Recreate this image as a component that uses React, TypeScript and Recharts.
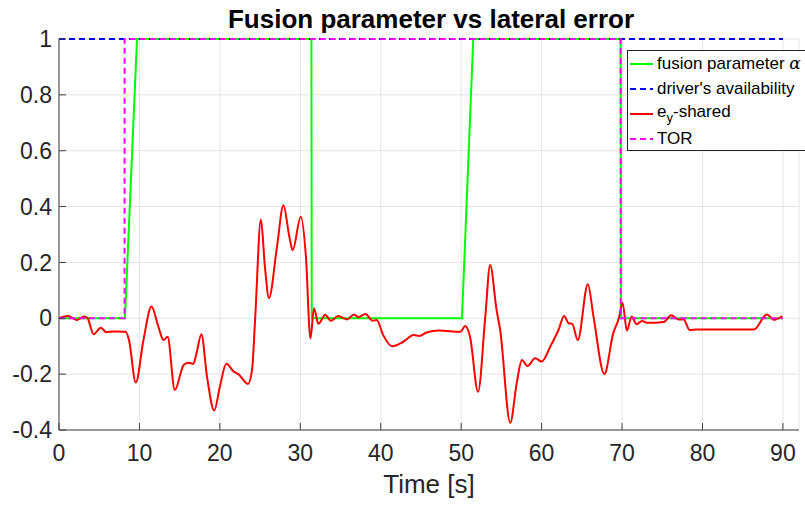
import React from "react";
import {
  LineChart,
  Line,
  XAxis,
  YAxis,
  CartesianGrid,
  Legend,
  Label,
} from "recharts";

// tick positions
const xTicks = [0, 10, 20, 30, 40, 50, 60, 70, 80, 90];
const yTicks = [-0.4, -0.2, 0, 0.2, 0.4, 0.6, 0.8, 1];

// fusion parameter alpha (time, value)
const alphaT = [0, 8.2, 9.7, 31.38, 31.42, 50.1, 51.5, 69.82, 69.86, 90];
const alphaV = [0, 0, 1, 1, 0, 0, 1, 1, 0, 0];

// driver's availability
const availT = [0, 90];
const availV = [1, 1];

// take-over request
const torT = [0, 8.15, 8.16, 69.83, 69.84, 90];
const torV = [0, 0, 1, 1, 0, 0];

// lateral error e_y shared
const eyT = [
  0, 1.15, 2.2, 3.15, 3.55, 4.3, 5.2, 5.9, 6.75, 8.3, 8.7, 9.55, 10.5, 11.5,
  12.35, 13.0, 13.5, 14.4, 15.5, 16.1, 16.7, 17.1, 17.7, 18.4, 19.3, 20.0,
  20.8, 21.7, 22.3, 23.5, 24.0, 24.4, 25.1, 25.6, 26.1, 27.1, 27.9, 28.65,
  29.05, 30.06, 30.7, 31.26, 31.7, 32.25, 33.1, 33.8, 34.7, 35.8, 36.7, 37.2,
  38.1, 39.0, 39.5, 40.3, 41.4, 42.8, 44.1, 44.8, 45.7, 47.2, 49.9, 50.5, 51.1,
  52.1, 53.0, 53.6, 54.4, 54.85, 56.1, 56.9, 57.55, 58.25, 59.2, 60.0, 61.1,
  62.1, 62.8, 63.35, 63.8, 64.5, 65.75, 66.45, 67.8, 68.9, 69.6, 70.06, 70.6,
  71.2, 71.8, 72.5, 73.1, 75.2, 76.1, 77.0, 77.65, 78.4, 79.3, 86.4, 88.0,
  88.9, 89.9,
];
const eyV = [
  0, 0.008, -0.006, 0.006, 0.0, -0.057, -0.034, -0.05, -0.047, -0.048, -0.078,
  -0.23, -0.078, 0.042, -0.03, -0.078, -0.066, -0.257, -0.167, -0.159, -0.163,
  -0.125, -0.057, -0.209, -0.33, -0.245, -0.163, -0.19, -0.2, -0.235, -0.185,
  0.006, 0.354, 0.185, 0.072, 0.256, 0.405, 0.29, 0.244, 0.364, 0.22, -0.072,
  0.036, -0.02, 0.013, -0.009, 0.008, -0.004, 0.014, 0.004, 0.015, -0.009,
  -0.006, -0.06, -0.1, -0.084, -0.06, -0.063, -0.051, -0.044, -0.048, -0.028,
  -0.066, -0.263, 0.006, 0.191, 0.03, -0.042, -0.374, -0.233, -0.149, -0.171,
  -0.143, -0.155, -0.1, -0.042, 0.008, -0.018, -0.02, -0.078, 0.122, 0.006,
  -0.2, -0.054, 0.0, 0.056, -0.044, 0.006, -0.021, -0.01, -0.016, -0.013,
  0.011, -0.004, -0.004, -0.042, -0.04, -0.04, 0.014, -0.006, 0.008,
];

const toRows = (t: number[], v: number[]) => t.map((x, i) => ({ t: x, v: v[i] }));

const alphaData = toRows(alphaT, alphaV);
const availData = toRows(availT, availV);
const torData = toRows(torT, torV);
const eyData = toRows(eyT, eyV);

const FONT = '"Liberation Sans", Arial, Helvetica, sans-serif';
const AXIS = "#404040";

const legendRows = [
  {
    color: "#00ff00",
    dash: "",
    label: (
      <>
        fusion parameter{" "}
        <span style={{ fontFamily: '"DejaVu Serif", serif', fontStyle: "italic" }}>α</span>
      </>
    ),
  },
  { color: "#0000ff", dash: "6 4", label: <>driver's availability</> },
  {
    color: "#ff0000",
    dash: "",
    label: (
      <>
        e<sub style={{ fontSize: 13, verticalAlign: "-5px" }}>y</sub>-shared
      </>
    ),
  },
  { color: "#ff00ff", dash: "6 4", label: <>TOR</> },
];

const LegendBox = () => (
  <div
    style={{
      boxSizing: "border-box",
      width: 190,
      height: 101,
      border: "1px solid #262626",
      background: "#fff",
      fontFamily: FONT,
      fontSize: 17,
      color: "#000",
      paddingTop: 0,
    }}
  >
    {legendRows.map((r, i) => (
      <div
        key={i}
        style={{ height: 25, display: "flex", alignItems: "center", whiteSpace: "nowrap" }}
      >
        <svg width={23} height={4} style={{ marginLeft: 2, marginRight: 4 }}>
          <line
            x1={0}
            y1={2}
            x2={23}
            y2={2}
            stroke={r.color}
            strokeWidth={2}
            strokeDasharray={r.dash || undefined}
          />
        </svg>
        <span>{r.label}</span>
      </div>
    ))}
  </div>
);

const fmt = (v: number) => String(Math.round(v * 10) / 10);

export default function App() {
  return (
    <div
      style={{
        position: "absolute",
        left: 0,
        top: 0,
        width: 805,
        height: 505,
        overflow: "hidden",
        background: "#fff",
      }}
    >
      <div
        style={{
          position: "absolute",
          left: 0,
          top: 6,
          width: 862,
          textAlign: "center",
          fontFamily: FONT,
          fontWeight: "bold",
          fontSize: 26,
          lineHeight: "26px",
          color: "#000",
          zIndex: 2,
        }}
      >
        Fusion parameter vs lateral error
      </div>
      <LineChart
        width={805}
        height={505}
        margin={{ top: 39, right: 6, left: 9, bottom: 25 }}
      >
        <CartesianGrid stroke="#e3e3e3" strokeWidth={1} />
        <XAxis
          type="number"
          dataKey="t"
          domain={[0, 92]}
          ticks={xTicks}
          height={50}
          allowDuplicatedCategory={false}
          stroke={AXIS}
          tickSize={-7}
          tickMargin={22}
          tick={{ fill: "#262626", fontSize: 23, fontFamily: FONT }}
        >
          <Label
            value="Time [s]"
            position="bottom"
            offset={-5}
            style={{ fill: "#262626", fontSize: 26, fontFamily: FONT }}
          />
        </XAxis>
        <YAxis
          type="number"
          dataKey="v"
          domain={[-0.4, 1]}
          ticks={yTicks}
          width={50}
          stroke={AXIS}
          tickSize={-7}
          tickMargin={14}
          tickFormatter={fmt}
          tick={{ fill: "#262626", fontSize: 23, fontFamily: FONT }}
        />
        <Legend
          layout="horizontal"
          verticalAlign="middle"
          align="center"
          content={() => <LegendBox />}
          wrapperStyle={{ left: 627, top: 50, width: 190, height: 101 }}
        />
        <Line
          data={alphaData}
          dataKey="v"
          type="linear"
          stroke="#00ff00"
          strokeWidth={2}
          dot={false}
          isAnimationActive={false}
        />
        <Line
          data={availData}
          dataKey="v"
          type="linear"
          stroke="#0000ff"
          strokeWidth={2}
          strokeDasharray="6 4"
          dot={false}
          isAnimationActive={false}
        />
        <Line
          data={eyData}
          dataKey="v"
          type="monotone"
          stroke="#ff0000"
          strokeWidth={2}
          dot={false}
          isAnimationActive={false}
        />
        <Line
          data={torData}
          dataKey="v"
          type="linear"
          stroke="#ff00ff"
          strokeWidth={2}
          strokeDasharray="6 4"
          dot={false}
          isAnimationActive={false}
        />
      </LineChart>
    </div>
  );
}
